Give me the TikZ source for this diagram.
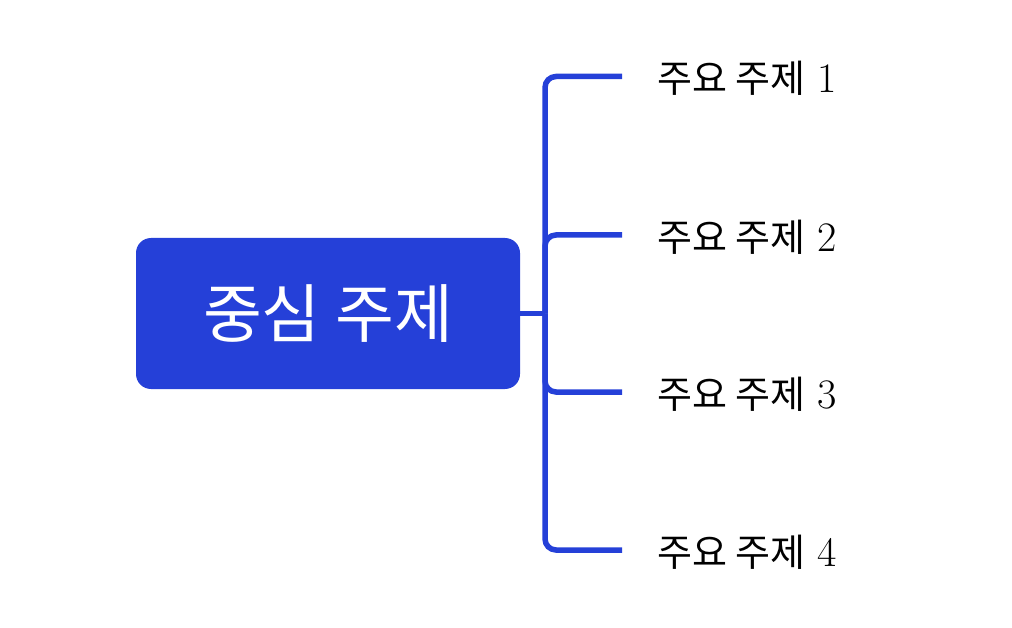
\documentclass[tikz,border=0pt]{standalone}
\usepackage{fontspec}
\newfontfamily\krfont{Noto Sans CJK KR}
\usetikzlibrary{positioning}
\definecolor{topicblue}{RGB}{37,64,216}
\tikzset{core/.style={rectangle, rounded corners=15pt, fill=topicblue, text=white,
   minimum width=384pt, minimum height=151pt, inner sep=0pt,
   font=\krfont\fontsize{64}{70}\selectfont}}
\tikzset{topic/.style={inner sep=0pt, yshift=-2pt, font=\fontsize{38}{44}\selectfont}}
\tikzset{branch/.style={draw=topicblue, line width=5.5pt, rounded corners=11pt}}
\newcommand{\subtopic}[1]{{\krfont 주요 주제} {\fontsize{42}{44}\selectfont #1}}

\begin{document}
\begin{tikzpicture}[x=1pt, y=-1pt]

    \useasboundingbox (0,0) rectangle (1012,628);

    \node[core] (core) at (328,313.5) {중심 주제};

    \coordinate (hub) at (545,313.5);
    \coordinate (e1) at (622,76.5);
    \coordinate (e2) at (622,235);
    \coordinate (e3) at (622,392);
    \coordinate (e4) at (622,550);

    \node[topic, right=35pt of e1] (t1) {\subtopic{1}};
    \node[topic, right=35pt of e2] (t2) {\subtopic{2}};
    \node[topic, right=35pt of e3] (t3) {\subtopic{3}};
    \node[topic, right=35pt of e4] (t4) {\subtopic{4}};

    \draw[branch] (core.east) -- (hub);
    \draw[branch] (hub) |- (e1);
    \draw[branch] (hub) |- (e2);
    \draw[branch] (hub) |- (e3);
    \draw[branch] (hub) |- (e4);

  \end{tikzpicture}
\end{document}
